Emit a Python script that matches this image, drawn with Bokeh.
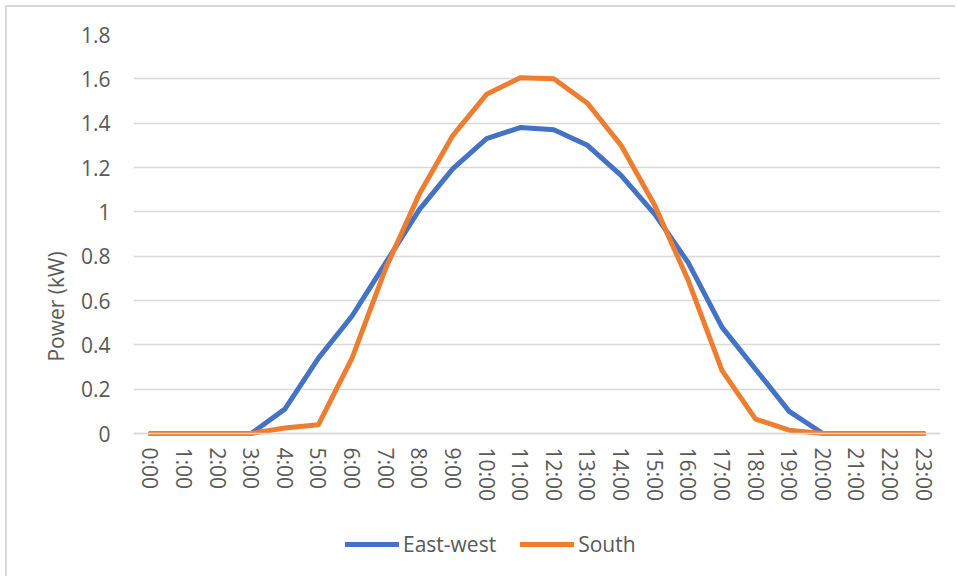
from bokeh.plotting import figure
from bokeh.models import Legend, LegendItem, NumeralTickFormatter, FixedTicker
from bokeh.embed import file_html
from bokeh.resources import INLINE

hours = ["0:00", "1:00", "2:00", "3:00", "4:00", "5:00", "6:00", "7:00",
         "8:00", "9:00", "10:00", "11:00", "12:00", "13:00", "14:00", "15:00",
         "16:00", "17:00", "18:00", "19:00", "20:00", "21:00", "22:00", "23:00"]

east_west = [0, 0, 0, 0, 0.11, 0.34, 0.53, 0.77, 1.01, 1.195, 1.33, 1.38,
             1.37, 1.30, 1.165, 0.99, 0.77, 0.48, 0.29, 0.10, 0, 0, 0, 0]

south = [0, 0, 0, 0, 0.025, 0.04, 0.34, 0.745, 1.08, 1.345, 1.53, 1.605,
         1.60, 1.49, 1.30, 1.03, 0.69, 0.285, 0.065, 0.015, 0, 0, 0, 0]

y_ticks = [0, 0.2, 0.4, 0.6, 0.8, 1.0, 1.2, 1.4, 1.6, 1.8]

TEXT = "#595959"
GRID = "#d9d9d9"
FONT = "Open Sans"
FS = "21px"

# the frame runs down to the bottom edge so that the hour labels and the
# legend can sit inside it, under the zero line
p = figure(x_range=hours, y_range=(-0.654, 1.8), width=950, height=571,
           output_backend="svg", toolbar_location=None,
           min_border_left=126, min_border_right=17,
           min_border_top=27, min_border_bottom=0)
p.margin = (5, 0, 0, 5)
p.styles = {"border-top": "2px solid #d9d9d9", "border-left": "2px solid #d9d9d9"}
p.outline_line_color = None
p.background_fill_color = "white"
p.border_fill_color = "white"

r_ew = p.line(hours, east_west, line_color="#4472C4", line_width=5,
              line_join="round", line_cap="round")
r_s = p.line(hours, south, line_color="#ED7D31", line_width=5,
             line_join="round", line_cap="round")

p.xgrid.grid_line_color = None
p.ygrid.ticker = FixedTicker(ticks=y_ticks)
p.ygrid.grid_line_color = GRID
p.ygrid.grid_line_width = 1.5

p.yaxis.ticker = FixedTicker(ticks=y_ticks)
p.yaxis.formatter = NumeralTickFormatter(format="0.[0]")
p.yaxis.axis_line_color = None
p.yaxis.major_tick_line_color = None
p.yaxis.minor_tick_line_color = None
p.yaxis.major_label_standoff = 17
p.yaxis.major_label_text_font = FONT
p.yaxis.major_label_text_font_size = FS
p.yaxis.major_label_text_color = TEXT
p.yaxis.axis_label = "Power (kW)"
p.yaxis.axis_label_text_font = FONT
p.yaxis.axis_label_text_font_size = FS
p.yaxis.axis_label_text_font_style = "normal"
p.yaxis.axis_label_text_color = TEXT
p.yaxis.axis_label_standoff = 8

p.xaxis.fixed_location = 0
p.xaxis.axis_line_color = GRID
p.xaxis.axis_line_width = 1.5
p.xaxis.major_tick_line_color = None
p.xaxis.minor_tick_line_color = None
p.xaxis.major_label_orientation = "vertical"
p.xaxis.major_label_standoff = 8
p.xaxis.major_label_text_font = FONT
p.xaxis.major_label_text_font_size = FS
p.xaxis.major_label_text_color = TEXT

legend = Legend(items=[LegendItem(label="East-west", renderers=[r_ew]),
                       LegendItem(label="South", renderers=[r_s])],
                orientation="horizontal", location=(212, 20))
legend.border_line_color = None
legend.background_fill_alpha = 0
legend.label_text_font = FONT
legend.label_text_font_size = FS
legend.label_text_color = TEXT
legend.glyph_width = 54
legend.label_standoff = 4
legend.spacing = 24
legend.padding = 0
legend.margin = 0
p.add_layout(legend, "center")

open("out.html", "w").write(file_html(p, INLINE))
